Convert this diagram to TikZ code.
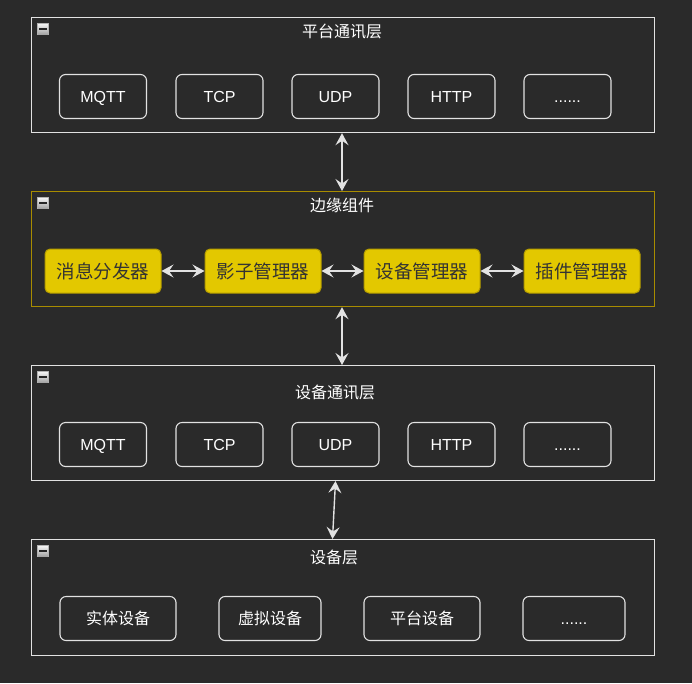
\documentclass[tikz,border=0pt]{standalone}
\usepackage{fontspec}
\setmainfont{Liberation Sans}
\newfontfamily\cjk{Noto Sans CJK SC}
\usetikzlibrary{arrows.meta}
\definecolor{bg}{HTML}{2A2A2A}
\definecolor{ln}{HTML}{E2E2E2}
\definecolor{yel}{HTML}{E3C800}
\definecolor{yelb}{HTML}{B39B00}
\definecolor{olive}{HTML}{A88C00}
\tikzset{
  layer/.style={draw=ln, line width=1.2pt, fill=bg},
  wbox/.style={draw=ln, line width=1.1pt, rounded corners=6pt, fill=bg, text=white, font=\fontsize{16}{19}\selectfont, inner sep=0pt, text height=11.5pt, text depth=0pt},
  ybox/.style={draw=yelb, line width=1pt, rounded corners=5pt, fill=yel, text=black!80, font=\cjk\fontsize{18.5}{21}\selectfont, inner sep=0pt, text height=14pt, text depth=0pt},
  ttl/.style={text=white, font=\cjk\fontsize{16}{19}\selectfont, inner sep=0pt, text height=12pt, text depth=0pt},
  arr/.style={draw=ln, line width=1.4pt, {Stealth[length=12pt,width=13pt,inset=4.5pt]}-{Stealth[length=12pt,width=13pt,inset=4.5pt]}},
}
\newcommand{\minusicon}[2]{%
  \fill[fill=black!30] (#1,#2) rectangle ++(12,12);
  \shade[top color=white!90!gray, bottom color=gray!70] (#1+1,#2+1) rectangle ++(10,10);
  \fill[black!85] (#1+2,#2+5) rectangle ++(8,2.2);
}
\begin{document}
\begin{tikzpicture}[x=1pt,y=-1pt]
\fill[bg] (0,0) rectangle (692,683);
\useasboundingbox (0,0) rectangle (692,683);
% layers
\node[layer, minimum width=623, minimum height=115, anchor=north west] (L1) at (31,17) {};
\node[layer, draw=olive, minimum width=623, minimum height=115, anchor=north west] (L2) at (31,191) {};
\node[layer, minimum width=623, minimum height=115, anchor=north west] (L3) at (31,365) {};
\node[layer, minimum width=623, minimum height=116, anchor=north west] (L4) at (31,539) {};
\minusicon{37}{23}
\minusicon{37}{197}
\minusicon{37}{371}
\minusicon{37}{545}
\node[ttl] (T1) at (342,31) {平台通讯层};
\node[ttl] (T2) at (342,205) {边缘组件};
\node[ttl] (T3) at (335,392) {设备通讯层};
\node[ttl] (T4) at (334,557) {设备层};
% layer 1 boxes
\node[wbox, minimum width=87, minimum height=44] (a1) at (103,96.5) {MQTT};
\node[wbox, minimum width=87, minimum height=44] (a2) at (219.5,96.5) {TCP};
\node[wbox, minimum width=87, minimum height=44] (a3) at (335.5,96.5) {UDP};
\node[wbox, minimum width=87, minimum height=44] (a4) at (451.5,96.5) {HTTP};
\node[wbox, minimum width=87, minimum height=44] (a5) at (567.5,96.5) {......};
% layer 2 boxes
\node[ybox, minimum width=116, minimum height=44] (b1) at (103,271) {消息分发器};
\node[ybox, minimum width=116, minimum height=44] (b2) at (263,271) {影子管理器};
\node[ybox, minimum width=116, minimum height=44] (b3) at (422,271) {设备管理器};
\node[ybox, minimum width=116, minimum height=44] (b4) at (582,271) {插件管理器};
% layer 3 boxes
\node[wbox, minimum width=87, minimum height=44] (c1) at (103,444.5) {MQTT};
\node[wbox, minimum width=87, minimum height=44] (c2) at (219.5,444.5) {TCP};
\node[wbox, minimum width=87, minimum height=44] (c3) at (335.5,444.5) {UDP};
\node[wbox, minimum width=87, minimum height=44] (c4) at (451.5,444.5) {HTTP};
\node[wbox, minimum width=87, minimum height=44] (c5) at (567.5,444.5) {......};
% layer 4 boxes
\node[wbox, minimum width=116, minimum height=44, text height=12.5pt] (d1) at (118,618.5) {\cjk 实体设备};
\node[wbox, minimum width=102, minimum height=44, text height=12.5pt] (d2) at (270,618.5) {\cjk 虚拟设备};
\node[wbox, minimum width=116, minimum height=44, text height=12.5pt] (d3) at (422,618.5) {\cjk 平台设备};
\node[wbox, minimum width=102, minimum height=44] (d4) at (574,618.5) {......};
% connectors
\draw[arr] (L1.south -| 342,0) -- (L2.north -| 342,0);
\draw[arr] (L2.south -| 342,0) -- (L3.north -| 342,0);
\coordinate (p3) at (335.5,481);
\coordinate (p4) at (332.5,539);
\draw[arr] (p3) -- (p4);
\draw[arr] (b1) -- (b2);
\draw[arr] (b2) -- (b3);
\draw[arr] (b3) -- (b4);
\end{tikzpicture}
\end{document}
